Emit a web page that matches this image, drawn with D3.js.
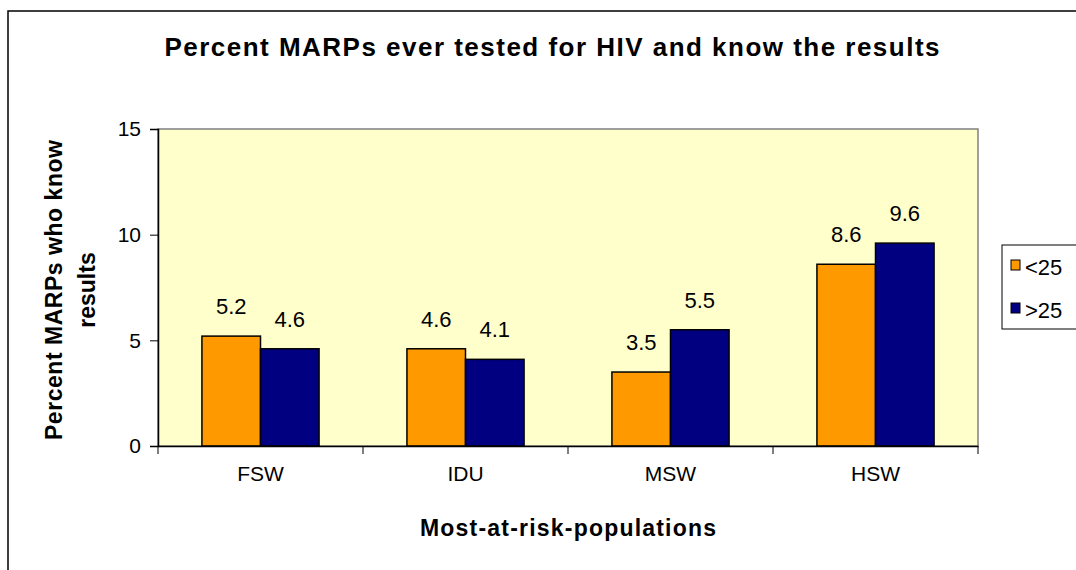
<!DOCTYPE html>
<html>
<head>
<meta charset="utf-8" />
<title>Percent MARPs ever tested</title>
<style>
  body { margin: 0; background: #fff; }
  text { font-family: "Liberation Sans", Arial, sans-serif; fill: #000; }
</style>
</head>
<body>
<svg id="chart" width="1076" height="570"></svg>
<script src="https://d3js.org/d3.v7.min.js"></script>
<script>
var categories = ["FSW", "IDU", "MSW", "HSW"];
var seriesNames = ["<25", ">25"];
var under25 = [5.2, 4.6, 3.5, 8.6];
var over25 = [4.6, 4.1, 5.5, 9.6];
var yTicks = [0, 5, 10, 15];
var colors = ["#ff9900", "#000080"];

var svg = d3.select("#chart");

// outer chart border
svg.append("rect")
  .attr("x", 8).attr("y", 11)
  .attr("width", 1200).attr("height", 700)
  .attr("fill", "#fff")
  .attr("stroke", "#000").attr("stroke-width", 1.5);

var plot = { left: 158, top: 129, right: 978, bottom: 446 };

var x = d3.scaleBand()
  .domain(categories)
  .range([plot.left, plot.right]);

var xInner = d3.scaleBand()
  .domain(seriesNames)
  .range([0, x.bandwidth()])
  .paddingInner(0)
  .paddingOuter(0.75);

var y = d3.scaleLinear()
  .domain([0, 15])
  .range([plot.bottom, plot.top]);

// plot area
svg.append("rect")
  .attr("x", plot.left).attr("y", plot.top)
  .attr("width", plot.right - plot.left)
  .attr("height", plot.bottom - plot.top)
  .attr("fill", "#ffffcc")
  .attr("stroke", "#808080").attr("stroke-width", 1.5);

var rows = categories.map(function(c, i) {
  return { cat: c, values: [under25[i], over25[i]] };
});

var groups = svg.selectAll("g.cat")
  .data(rows)
  .enter().append("g")
  .attr("class", "cat")
  .attr("transform", function(d) { return "translate(" + x(d.cat) + ",0)"; });

groups.selectAll("rect")
  .data(function(d) { return d.values.map(function(v, i) { return { s: seriesNames[i], v: v, i: i }; }); })
  .enter().append("rect")
  .attr("x", function(d) { return xInner(d.s); })
  .attr("y", function(d) { return y(d.v); })
  .attr("width", xInner.bandwidth())
  .attr("height", function(d) { return y(0) - y(d.v); })
  .attr("fill", function(d) { return colors[d.i]; })
  .attr("stroke", "#000").attr("stroke-width", 1.5);

groups.selectAll("text.val")
  .data(function(d) { return d.values.map(function(v, i) { return { s: seriesNames[i], v: v }; }); })
  .enter().append("text")
  .attr("class", "val")
  .attr("x", function(d) { return xInner(d.s) + xInner.bandwidth() / 2; })
  .attr("y", function(d) { return y(d.v) - 22; })
  .attr("text-anchor", "middle")
  .style("font-size", "22px")
  .text(function(d) { return d.v.toFixed(1); });

// y axis
var yAxis = svg.append("g")
  .attr("transform", "translate(" + plot.left + ",0)")
  .call(d3.axisLeft(y).tickValues(yTicks).tickSize(8).tickPadding(9));
yAxis.select(".domain").attr("stroke", "#000").attr("stroke-width", 1.5);
yAxis.selectAll(".tick line").attr("stroke", "#000");
yAxis.selectAll(".tick text")
  .style("font-size", "21px")
  .attr("font-family", null);

// x axis
var xAxis = svg.append("g")
  .attr("transform", "translate(0," + plot.bottom + ")")
  .call(d3.axisBottom(x).tickSize(0));
xAxis.select(".domain").attr("stroke", "#000").attr("stroke-width", 1.5);
xAxis.selectAll(".tick text")
  .attr("y", 35).attr("dy", null)
  .style("font-size", "21px")
  .attr("font-family", null);
xAxis.selectAll("line.sep")
  .data(d3.range(categories.length + 1))
  .enter().append("line")
  .attr("class", "sep")
  .attr("x1", function(i) { return plot.left + i * x.step(); })
  .attr("x2", function(i) { return plot.left + i * x.step(); })
  .attr("y1", 0).attr("y2", 8)
  .attr("stroke", "#000");

// title
svg.append("text")
  .attr("x", 552).attr("y", 56)
  .attr("text-anchor", "middle")
  .attr("textLength", 775).attr("lengthAdjust", "spacing")
  .style("font-size", "26px").style("font-weight", "bold")
  .text("Percent MARPs ever tested for HIV and know the results");

// axis titles
svg.append("text")
  .attr("x", 568).attr("y", 536)
  .attr("text-anchor", "middle")
  .attr("textLength", 296).attr("lengthAdjust", "spacing")
  .style("font-size", "23px").style("font-weight", "bold")
  .text("Most-at-risk-populations");

var yTitle = svg.append("text")
  .attr("transform", "translate(62,290) rotate(-90)")
  .attr("text-anchor", "middle")
  .style("font-size", "23px").style("font-weight", "bold");
yTitle.append("tspan").attr("x", 0).attr("dy", 0)
  .attr("textLength", 300).attr("lengthAdjust", "spacing")
  .text("Percent MARPs who know");
yTitle.append("tspan").attr("x", 0).attr("dy", 33).text("results");

// legend
var legend = svg.append("g").attr("transform", "translate(1002,245)");
legend.append("rect")
  .attr("width", 120).attr("height", 84)
  .attr("fill", "#fff").attr("stroke", "#000");
var items = legend.selectAll("g.item")
  .data(seriesNames)
  .enter().append("g")
  .attr("class", "item")
  .attr("transform", function(d, i) { return "translate(9," + (15 + i * 43) + ")"; });
items.append("rect")
  .attr("width", 9).attr("height", 10)
  .attr("fill", function(d, i) { return colors[i]; })
  .attr("stroke", "#000").attr("stroke-width", 1);
items.append("text")
  .attr("x", 14).attr("y", 15)
  .style("font-size", "22px")
  .text(function(d) { return d; });
</script>
</body>
</html>
